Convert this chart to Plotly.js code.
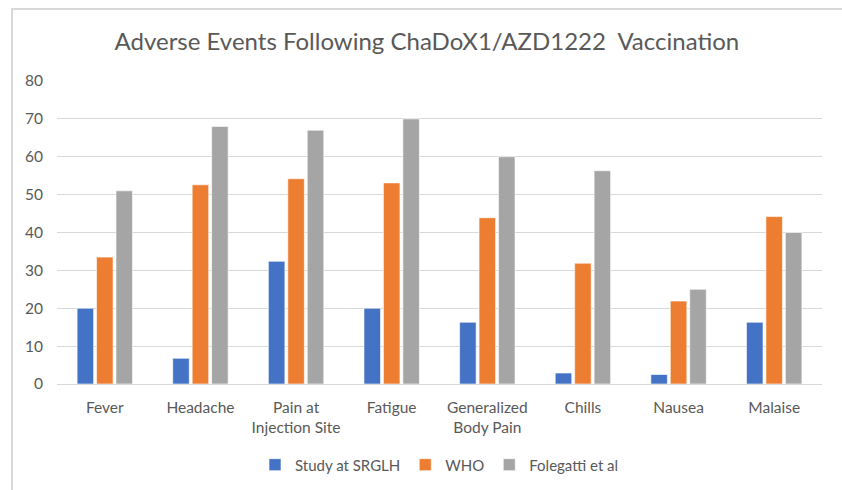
<!DOCTYPE html>
<html>
<head>
<meta charset="utf-8">
<script src="https://cdn.plot.ly/plotly-3.0.1.min.js"></script>
<style>
  html, body { margin: 0; padding: 0; background: #fff; }
  #frame { position: absolute; left: 11px; top: 8px; width: 831px; height: 482px;
           border-top: 2px solid #d9d9d9; border-left: 2px solid #d9d9d9; box-sizing: border-box; }
  #chart { position: absolute; left: 0; top: 0; width: 842px; height: 490px; }
</style>
</head>
<body>
<div id="frame"></div>
<div id="chart"></div>
<script>
const categories = ["Fever", "Headache", "Pain at<br>Injection Site", "Fatigue", "Generalized<br>Body Pain", "Chills", "Nausea", "Malaise"];
const studySRGLH = [20, 6.8, 32.4, 20, 16.3, 2.9, 2.5, 16.3];
const who = [33.5, 52.6, 54.2, 53.1, 43.9, 31.9, 21.9, 44.2];
const folegatti = [51, 68, 67, 70, 60, 56.3, 25, 40];
const seriesNames = ["Study at SRGLH", "WHO", "Folegatti et al"];
const yTicks = [0, 10, 20, 30, 40, 50, 60, 70, 80];

const colors = ["#4472C4", "#ED7D31", "#A5A5A5"];
const values = [studySRGLH, who, folegatti];
const traces = values.map((v, i) => ({
  type: "bar",
  name: seriesNames[i],
  x: categories,
  y: v,
  marker: { color: colors[i], line: { color: "rgba(255,255,255,0.6)", width: 1 } },
  hoverinfo: "skip"
}));

const layout = {
  width: 842, height: 490,
  paper_bgcolor: "rgba(0,0,0,0)",
  plot_bgcolor: "rgba(0,0,0,0)",
  margin: { l: 57, r: 20, t: 81, b: 106, autoexpand: false },
  font: { family: "Lato, 'Open Sans', sans-serif", color: "#595959", size: 15.5 },
  title: {
    text: "Adverse Events Following ChaDoX1/AZD1222\u00a0 Vaccination",
    font: { family: "Lato, 'Open Sans', sans-serif", size: 24, color: "#595959" },
    x: 0.507, xanchor: "center", y: 0.915, yanchor: "middle"
  },
  barmode: "group",
  bargap: 0.39,
  bargroupgap: 0.15,
  xaxis: {
    automargin: false,
    showgrid: false, zeroline: false, showline: false,
    ticks: "outside", ticklen: 9, tickcolor: "rgba(0,0,0,0)",
    tickfont: { size: 15.5, color: "#595959" }
  },
  yaxis: {
    automargin: false,
    range: [0, 80], tickvals: yTicks, ticktext: yTicks.map(String),
    showgrid: true, gridcolor: "#d9d9d9", gridwidth: 1,
    zeroline: true, zerolinecolor: "#d9d9d9", zerolinewidth: 1,
    showline: false,
    ticks: "outside", ticklen: 10, tickcolor: "rgba(0,0,0,0)",
    tickfont: { size: 15.5, color: "#595959" }
  },
  showlegend: true,
  legend: {
    orientation: "h", x: 0.5, xanchor: "center", y: -0.267, yanchor: "middle",
    font: { size: 15, color: "#595959" }, itemwidth: 30, traceorder: "normal"
  }
};

Plotly.newPlot("chart", traces, layout, { displayModeBar: false, staticPlot: true });
</script>
</body>
</html>
